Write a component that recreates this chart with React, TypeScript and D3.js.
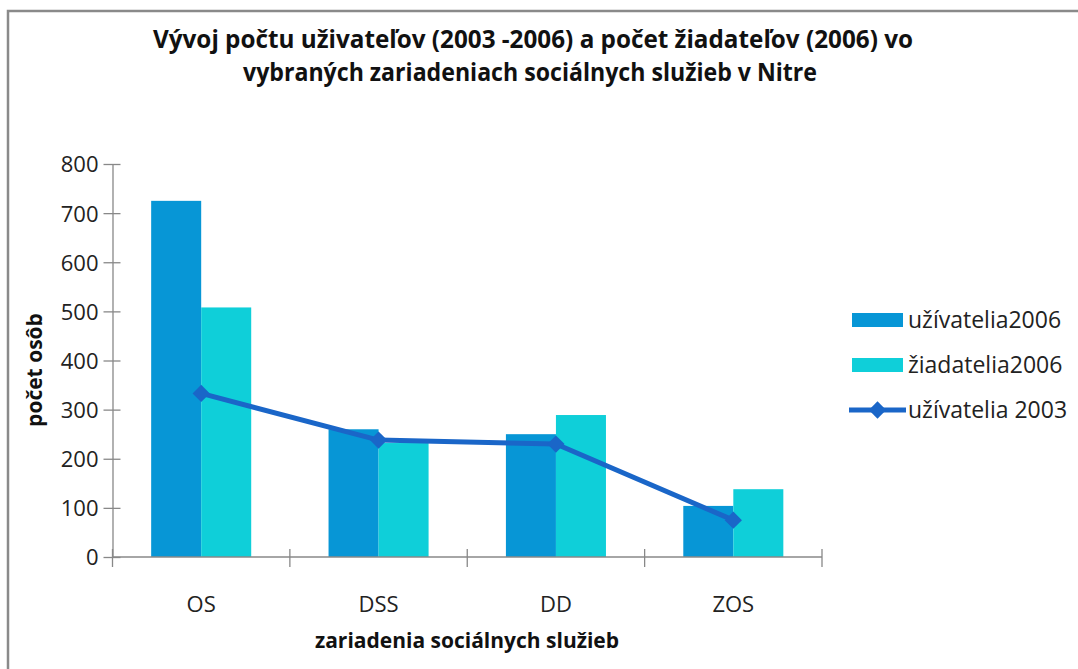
import React, { useEffect, useRef } from 'react';
import * as d3 from 'd3';

const categories = ['OS', 'DSS', 'DD', 'ZOS'];
const users2006 = [725, 260, 250, 104];
const applicants2006 = [508, 232, 289, 138];
const users2003 = [333, 238, 230, 75];
const yTicks = [0, 100, 200, 300, 400, 500, 600, 700, 800];
const seriesNames = ['užívatelia2006', 'žiadatelia2006', 'užívatelia 2003'];

const W = 1078;
const H = 669;
const DARK = '#0796d6';
const LIGHT = '#0fcfd9';
const LINE = '#1a66c8';
const AXIS = '#888888';
const FONT = "'Open Sans', 'Noto Sans', sans-serif";

const App = () => {
  const svgRef = useRef<SVGSVGElement>(null);

  useEffect(() => {
    const svg = d3.select(svgRef.current);
    svg.selectAll('*').remove();

    const plot = { left: 112.5, right: 822, top: 164, bottom: 557 };

    // frame
    svg.append('rect')
      .attr('x', 8).attr('y', 11)
      .attr('width', W).attr('height', H)
      .attr('fill', 'none')
      .attr('stroke', '#8a8a8a')
      .attr('stroke-width', 2.5);

    // title
    const title = svg.append('text')
      .attr('font-family', FONT)
      .attr('font-weight', 700)
      .attr('font-size', 25)
      .attr('fill', '#111');
    title.append('tspan')
      .attr('x', 153).attr('y', 48)
      .attr('textLength', 760).attr('lengthAdjust', 'spacingAndGlyphs')
      .text('Vývoj počtu uživateľov (2003 -2006) a počet žiadateľov (2006) vo');
    title.append('tspan')
      .attr('x', 243).attr('y', 81)
      .attr('textLength', 574).attr('lengthAdjust', 'spacingAndGlyphs')
      .text('vybraných zariadeniach sociálnych služieb v Nitre');

    const x = d3.scaleBand()
      .domain(categories)
      .range([plot.left, plot.right]);

    const step = x.step();
    const x1 = d3.scaleBand()
      .domain(['u', 'z'])
      .range([step * 0.218, step * 0.782]);

    const y = d3.scaleLinear()
      .domain([0, 800])
      .range([plot.bottom, plot.top]);

    // bars
    const groups = svg.append('g')
      .selectAll('g')
      .data(categories)
      .enter()
      .append('g')
      .attr('transform', d => `translate(${x(d)},0)`);

    groups.append('rect')
      .attr('x', x1('u')!)
      .attr('width', x1.bandwidth())
      .attr('y', (d, i) => y(users2006[i]))
      .attr('height', (d, i) => y(0) - y(users2006[i]))
      .attr('fill', DARK);

    groups.append('rect')
      .attr('x', x1('z')!)
      .attr('width', x1.bandwidth())
      .attr('y', (d, i) => y(applicants2006[i]))
      .attr('height', (d, i) => y(0) - y(applicants2006[i]))
      .attr('fill', LIGHT);

    // y axis
    const yAxis = svg.append('g')
      .attr('transform', `translate(${plot.left},0)`)
      .call(d3.axisLeft(y).tickValues(yTicks).tickSize(0).tickPadding(14))
      .call(g => g.select('.domain').attr('stroke', AXIS).attr('stroke-width', 1.3));
    yAxis.selectAll('.tick line').remove();
    yAxis.selectAll('.tick')
      .append('line')
      .attr('x1', -9).attr('x2', 8)
      .attr('stroke', AXIS).attr('stroke-width', 1.3);
    yAxis.selectAll('.tick text')
      .attr('font-family', FONT)
      .attr('font-size', 22)
      .attr('fill', '#222')
      .attr('dy', '0.36em');

    // x axis
    const xAxis = svg.append('g')
      .attr('transform', `translate(0,${plot.bottom})`);
    xAxis.append('line')
      .attr('x1', plot.left).attr('x2', plot.right)
      .attr('stroke', AXIS).attr('stroke-width', 1.3);
    const bounds = categories.map(c => x(c)!).concat([plot.right]);
    xAxis.selectAll('.xt')
      .data(bounds)
      .enter()
      .append('line')
      .attr('x1', d => d).attr('x2', d => d)
      .attr('y1', -8).attr('y2', 10)
      .attr('stroke', AXIS).attr('stroke-width', 1.3);
    xAxis.selectAll('.xl')
      .data(categories)
      .enter()
      .append('text')
      .attr('x', d => x(d)! + step / 2)
      .attr('y', 55)
      .attr('text-anchor', 'middle')
      .attr('font-family', FONT)
      .attr('font-size', 22)
      .attr('fill', '#222')
      .text(d => d);

    // line series
    const pts = categories.map((c, i) => [x(c)! + step / 2, y(users2003[i])] as [number, number]);
    svg.append('path')
      .attr('d', d3.line()(pts))
      .attr('fill', 'none')
      .attr('stroke', LINE)
      .attr('stroke-width', 5)
      .attr('stroke-linejoin', 'round');

    const diamond = d3.symbol().type(d3.symbolDiamond2).size(190);
    svg.selectAll('.mk')
      .data(pts)
      .enter()
      .append('path')
      .attr('d', diamond())
      .attr('transform', d => `translate(${d[0]},${d[1]})`)
      .attr('fill', LINE);

    // axis titles
    svg.append('text')
      .attr('transform', 'translate(42,370) rotate(-90)')
      .attr('text-anchor', 'middle')
      .attr('font-family', FONT)
      .attr('font-weight', 700)
      .attr('font-size', 21)
      .attr('fill', '#111')
      .text('počet osôb');

    svg.append('text')
      .attr('x', 467).attr('y', 648)
      .attr('text-anchor', 'middle')
      .attr('font-family', FONT)
      .attr('font-weight', 700)
      .attr('font-size', 21)
      .attr('fill', '#111')
      .text('zariadenia sociálnych služieb');

    // legend
    const legend = svg.append('g').attr('transform', 'translate(852,320)');
    const rows = legend.selectAll('g')
      .data(seriesNames)
      .enter()
      .append('g')
      .attr('transform', (d, i) => `translate(0,${i * 45})`);

    rows.filter((d, i) => i < 2)
      .append('rect')
      .attr('x', 0).attr('y', -7)
      .attr('width', 51).attr('height', 14)
      .attr('fill', (d, i) => (i === 0 ? DARK : LIGHT));

    const lineRow = rows.filter((d, i) => i === 2);
    lineRow.append('line')
      .attr('x1', -3).attr('x2', 54)
      .attr('stroke', LINE).attr('stroke-width', 5);
    lineRow.append('path')
      .attr('d', diamond())
      .attr('transform', 'translate(25.5,0)')
      .attr('fill', LINE);

    rows.append('text')
      .attr('x', 56)
      .attr('y', 8)
      .attr('font-family', FONT)
      .attr('font-size', 23)
      .attr('fill', '#222')
      .text(d => d);
  }, []);

  return (
    <svg
      ref={svgRef}
      width={W}
      height={H}
      style={{ position: 'absolute', left: 0, top: 0, background: '#fff' }}
    />
  );
};

export default App;
